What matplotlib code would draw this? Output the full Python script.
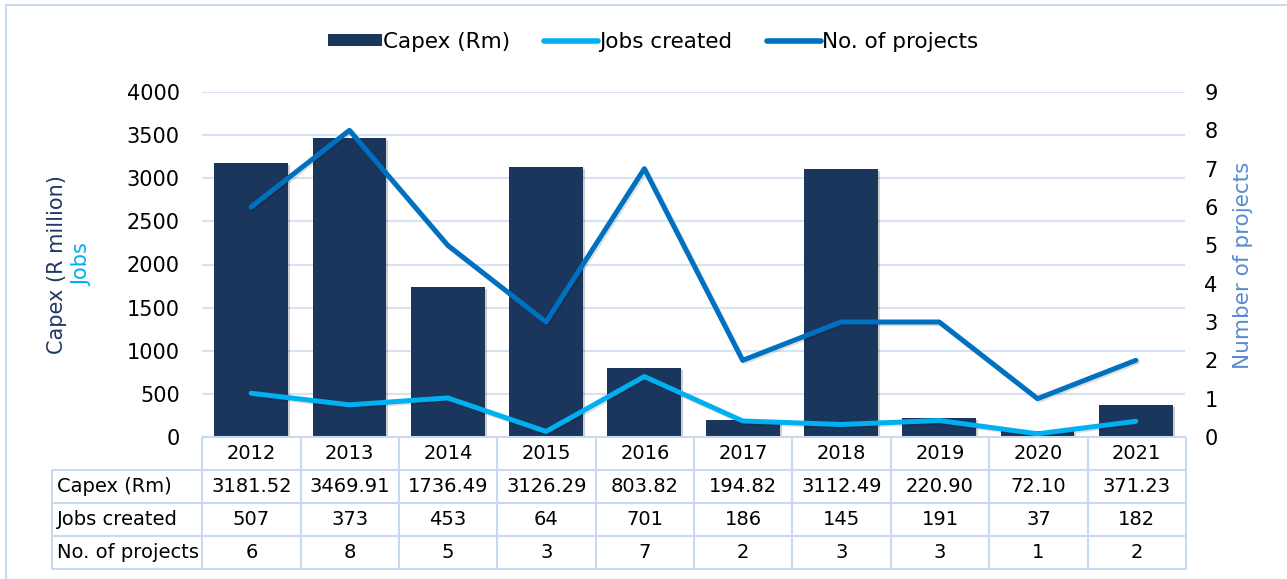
import matplotlib
matplotlib.use("Agg")
import matplotlib.pyplot as plt
from matplotlib.lines import Line2D
from matplotlib.patches import Patch
import matplotlib.patheffects as pe

years = ["2012", "2013", "2014", "2015", "2016", "2017", "2018", "2019", "2020", "2021"]
capex = [3181.52, 3469.91, 1736.49, 3126.29, 803.82, 194.82, 3112.49, 220.90, 72.10, 371.23]
jobs = [507, 373, 453, 64, 701, 186, 145, 191, 37, 182]
projects = [6, 8, 5, 3, 7, 2, 3, 3, 1, 2]
row_labels = ["Capex (Rm)", "Jobs created", "No. of projects"]

C_BAR = "#1a365d"
C_JOBS = "#00b0f0"
C_PROJ = "#0070c0"
C_GRID = "#d6e3f3"
C_TABLE = "#c9daf0"

plt.rcParams["font.family"] = ["DejaVu Sans"]
plt.rcParams["font.size"] = 14

W, H = 1287, 579
fig = plt.figure(figsize=(W / 100, H / 100), dpi=100)


def fx(px):
    return px / W


def fy(py):
    return 1 - py / H


# main chart area
ax = fig.add_axes([fx(202), fy(437), fx(1185) - fx(202), fy(92) - fy(437)])
x = list(range(len(years)))
shadow = [pe.SimplePatchShadow(offset=(1.5, -1.5), alpha=0.2), pe.Normal()]
line_fx = [pe.SimpleLineShadow(offset=(1.2, -1.2), alpha=0.12), pe.Normal()]
ax.bar(x, capex, width=0.75, color=C_BAR, zorder=2, path_effects=shadow)
ax.plot(x, jobs, color=C_JOBS, lw=3.6, solid_capstyle="round", zorder=3, path_effects=line_fx)
ax.set_xlim(-0.5, len(years) - 0.5)
ax.set_ylim(0, 4000)
ax.set_yticks(range(0, 4001, 500))
ax.yaxis.grid(True, color=C_GRID, lw=1.5, zorder=0)
ax.set_axisbelow(True)
ax.set_xticks([])
ax.tick_params(axis="y", length=0, pad=16, labelsize=15)
for s in ax.spines.values():
    s.set_visible(False)

ax2 = ax.twinx()
ax2.plot(x, projects, color=C_PROJ, lw=3.6, solid_capstyle="round", zorder=3, path_effects=line_fx)
ax2.set_ylim(0, 9)
ax2.set_yticks(range(0, 10))
ax2.tick_params(axis="y", length=0, pad=14, labelsize=15)
for s in ax2.spines.values():
    s.set_visible(False)

# axis titles
fig.text(fx(57), fy(265), "Capex (R million)", rotation=90, ha="center", va="center",
         color="#1f3864", fontsize=15)
fig.text(fx(82), fy(265), "Jobs", rotation=90, ha="center", va="center",
         color=C_JOBS, fontsize=15)
fig.text(fx(1243), fy(265), "Number of projects", rotation=90, ha="center", va="center",
         color="#5a8ccf", fontsize=15.5)

# legend
handles = [Patch(facecolor=C_BAR), Line2D([], [], color=C_JOBS, lw=4, solid_capstyle="round"),
           Line2D([], [], color=C_PROJ, lw=4, solid_capstyle="round")]
fig.legend(handles, ["Capex (Rm)", "Jobs created", "No. of projects"], loc="center",
           bbox_to_anchor=(fx(653), fy(42)), ncol=3, frameon=False, fontsize=15.5,
           handlelength=2.5, handleheight=0.5, handletextpad=0.05, columnspacing=1.6)

# data table under the chart
tx0 = -0.5 - (202 - 52) / 98.3
tax = fig.add_axes([fx(52), fy(569), fx(1186) - fx(52), fy(437) - fy(569)])
tax.set_xlim(tx0, len(years) - 0.5)
tax.set_ylim(4, 0)
tax.axis("off")
tkw = dict(color=C_TABLE, lw=1.5, clip_on=False)
tax.hlines([0], -0.5, len(years) - 0.5, **tkw)
tax.hlines([1, 2, 3, 4], tx0, len(years) - 0.5, **tkw)
tax.vlines([i - 0.5 for i in range(len(years) + 1)], 0, 4, **tkw)
tax.vlines([tx0], 1, 4, **tkw)
for i, yr in enumerate(years):
    tax.text(i, 0.5, yr, ha="center", va="center", fontsize=14)
rows = [[f"{v:.2f}" for v in capex], [str(v) for v in jobs], [str(v) for v in projects]]
for r, (lab, vals) in enumerate(zip(row_labels, rows)):
    tax.text(tx0 + 0.05, r + 1.5, lab, ha="left", va="center", fontsize=14)
    for i, v in enumerate(vals):
        tax.text(i, r + 1.5, v, ha="center", va="center", fontsize=14)

# outer frame
fig.add_artist(Line2D([fx(6), fx(6)], [0, fy(5)], color=C_TABLE, lw=1.5))
fig.add_artist(Line2D([fx(6), 1], [fy(5), fy(5)], color=C_TABLE, lw=1.5))

fig.savefig("out.png", dpi=100)
